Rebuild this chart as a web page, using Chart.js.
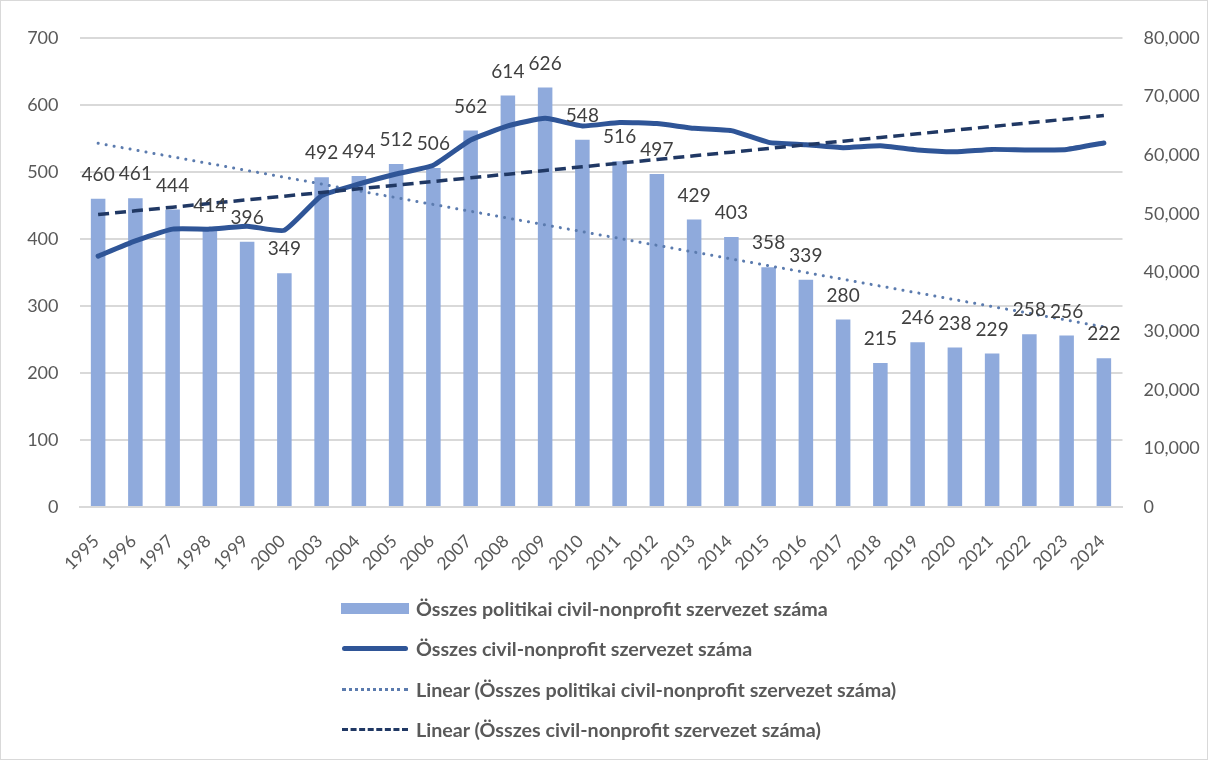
<!DOCTYPE html>
<html><head><meta charset="utf-8">
<script src="https://cdn.jsdelivr.net/npm/chart.js@4.4.1/dist/chart.umd.min.js"></script>
<style>
html,body{margin:0;padding:0;background:#fff;}
#wrap{position:relative;width:1208px;height:760px;box-sizing:border-box;border:1px solid #d9d9d9;}
#c{position:absolute;left:0;top:0;}
#legend{position:absolute;left:340px;top:587px;font-family:Lato,"Liberation Sans",sans-serif;font-weight:bold;font-size:19.7px;color:#595959;}
.row{height:40.5px;display:flex;align-items:center;white-space:nowrap;}
.sw{width:68px;margin-right:7px;display:flex;align-items:center;justify-content:center;}
</style></head>
<body>
<div id="wrap">
<canvas id="c" width="1206" height="758"></canvas>
<div id="legend"></div>
</div>
<script>
const categories = ["1995","1996","1997","1998","1999","2000","2003","2004","2005","2006","2007","2008","2009","2010","2011","2012","2013","2014","2015","2016","2017","2018","2019","2020","2021","2022","2023","2024"];
const politicalOrgs = [460,461,444,414,396,349,492,494,512,506,562,614,626,548,516,497,429,403,358,339,280,215,246,238,229,258,256,222];
const allOrgs = [42800,45400,47400,47400,47900,47200,53100,55100,56800,58300,62600,65000,66300,65000,65600,65400,64600,64200,62200,61800,61300,61600,60900,60600,61000,60900,61000,62100];
const leftTicks = [0,100,200,300,400,500,600,700];
const rightTicks = [0,10000,20000,30000,40000,50000,60000,70000,80000];
const seriesNames = ["Összes politikai civil-nonprofit szervezet száma","Összes civil-nonprofit szervezet száma","Linear (Összes politikai civil-nonprofit szervezet száma)","Linear (Összes civil-nonprofit szervezet száma)"];

function linearTrend(vals){
  const n=vals.length; let sx=0,sy=0,sxy=0,sxx=0;
  vals.forEach((v,i)=>{const x=i+1;sx+=x;sy+=v;sxy+=x*v;sxx+=x*x;});
  const b=(n*sxy-sx*sy)/(n*sxx-sx*sx), a=(sy-b*sx)/n;
  return vals.map((v,i)=>a+b*(i+1));
}
const trendPolitical = linearTrend(politicalOrgs);
const trendAll = linearTrend(allOrgs);

const FONT = 'Lato, "Liberation Sans", sans-serif';
const cBar='#8FAADC', cLine='#2F5597', cDot='#5B7BAE', cDash='#203864';

const labelPlugin = {
  id:'barLabels',
  afterDatasetsDraw(chart){
    const ctx=chart.ctx, meta=chart.getDatasetMeta(0);
    ctx.save();
    ctx.font='19px '+FONT; ctx.fillStyle='#404040';
    ctx.textAlign='center'; ctx.textBaseline='middle';
    meta.data.forEach((el,i)=>{ ctx.fillText(String(politicalOrgs[i]), el.x, el.y-24); });
    ctx.restore();
  }
};

new Chart(document.getElementById('c'),{
  data:{
    labels:categories,
    datasets:[
      {type:'bar',label:seriesNames[0],data:politicalOrgs,backgroundColor:cBar,yAxisID:'y',barPercentage:0.39,categoryPercentage:1,order:5},
      {type:'line',label:seriesNames[1],data:allOrgs,borderColor:cLine,borderWidth:5,pointRadius:0,tension:0.15,yAxisID:'y1',order:2,borderCapStyle:'round',borderJoinStyle:'round'},
      {type:'line',label:seriesNames[2],data:trendPolitical,borderColor:cDot,borderWidth:3,borderDash:[0.1,8],borderCapStyle:'round',pointRadius:0,yAxisID:'y',order:3},
      {type:'line',label:seriesNames[3],data:trendAll,borderColor:cDash,borderWidth:3.5,borderDash:[11,6],pointRadius:0,yAxisID:'y1',order:1}
    ]
  },
  options:{
    responsive:false,animation:false,
    layout:{padding:{top:37,left:0,right:0,bottom:0}},
    plugins:{legend:{display:false},tooltip:{enabled:false}},
    scales:{
      x:{
        grid:{display:false,drawTicks:false},
        border:{display:true,color:'#d9d9d9',width:2},
        ticks:{color:'#595959',font:{family:FONT,size:17.5},minRotation:45,maxRotation:45,padding:24,labelOffset:-2},
        afterFit(s){s.height=252;}
      },
      y:{
        position:'left',min:0,max:700,
        afterBuildTicks(s){s.ticks=leftTicks.map(v=>({value:v}));},
        grid:{color:'#d9d9d9',lineWidth:2,drawTicks:false},
        border:{display:false},
        ticks:{color:'#595959',font:{family:FONT,size:18},padding:21},
        afterFit(s){s.width=78.5;}
      },
      y1:{
        position:'right',min:0,max:80000,
        afterBuildTicks(s){s.ticks=rightTicks.map(v=>({value:v}));},
        grid:{display:false,drawTicks:false},
        border:{display:false},
        ticks:{color:'#595959',font:{family:FONT,size:18},padding:21,callback:v=>v.toLocaleString('en-US')},
        afterFit(s){s.width=84.5;}
      }
    }
  },
  plugins:[labelPlugin]
});

const swatches = [
  '<div style="width:68px;height:11px;background:'+cBar+'"></div>',
  '<div style="width:66px;height:5px;border-radius:3px;background:'+cLine+'"></div>',
  '<div style="width:66px;height:0;border-top:3px dotted '+cDot+'"></div>',
  '<div style="width:66px;height:0;border-top:3.5px dashed '+cDash+'"></div>'
];
document.getElementById('legend').innerHTML = seriesNames.map((n,i)=>'<div class="row"><div class="sw">'+swatches[i]+'</div><span>'+n+'</span></div>').join('');
</script>
</body></html>
